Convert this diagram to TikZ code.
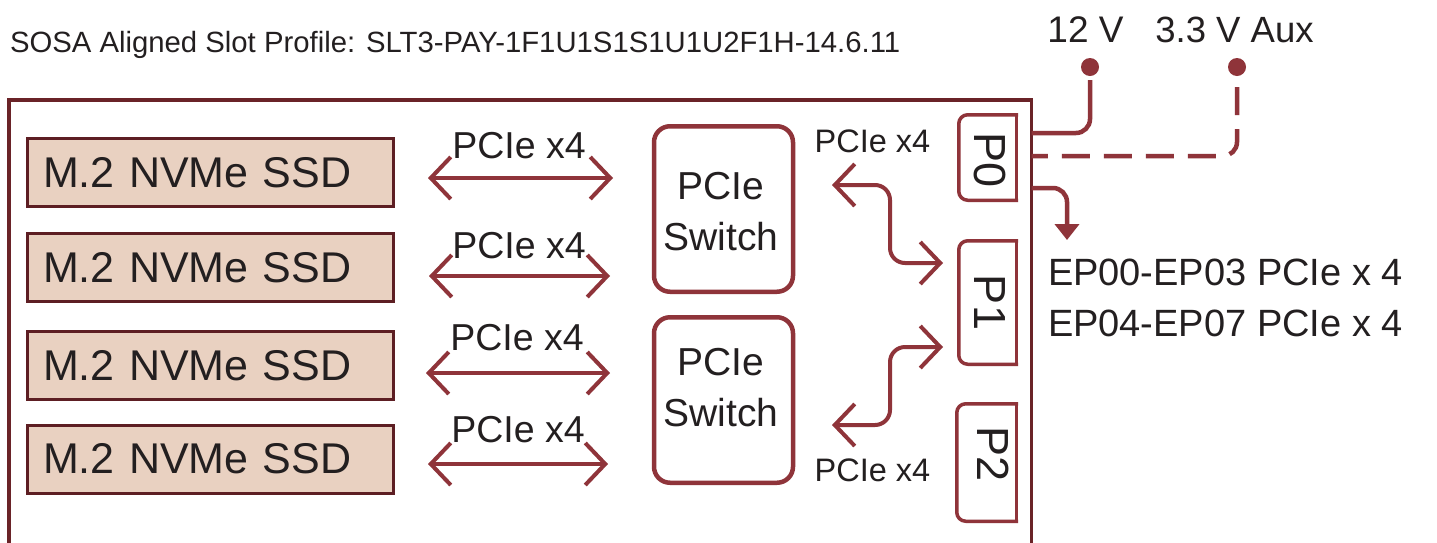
\documentclass[tikz,border=0pt]{standalone}
\usepackage{fontspec}
\setmainfont{Liberation Sans}
\usepackage{graphicx}
\usetikzlibrary{arrows.meta}
\definecolor{brick}{RGB}{143,52,58}
\definecolor{boardc}{RGB}{106,35,40}
\definecolor{ssdline}{RGB}{93,30,35}
\definecolor{ssdfill}{RGB}{233,209,193}
\definecolor{ink}{RGB}{35,31,32}
\newcommand{\myfs}[2]{\fontsize{#1}{#2}\selectfont}
\newcommand{\pout}[1]{%
  \draw[pline,rounded corners=9pt] (#1.north east) -- (#1.north west) -- (#1.south west) -- (#1.south east);
  \draw[pline] (#1.north east) -- (#1.south east);}
\begin{document}
\begin{tikzpicture}[x=1pt,y=-1pt,
  every node/.style={text=ink, inner sep=0pt, outer sep=0pt},
  >={Straight Barb[length=20pt,width=42pt,line join=miter,line cap=butt]},
  ssdbox/.style={draw=ssdline, line width=3pt, fill=ssdfill, minimum width=366pt, minimum height=68pt, text width=335pt, align=left, font=\myfs{43}{50}},
  swbox/.style={draw=brick, line width=4.5pt, rounded corners=16pt, minimum width=139pt, minimum height=165.5pt},
  swtext/.style={align=center, font=\myfs{39}{51}},
  pshape/.style={draw=none, minimum width=57.5pt},
  pline/.style={draw=brick, line width=3.5pt, line cap=rect},
  ptext/.style={font=\myfs{45}{50}, rotate=-90},
  lbl/.style={font=\myfs{37.5}{40}, anchor=base},
  slbl/.style={font=\myfs{32.5}{36}, anchor=base},
  pcx/.style={draw=brick, line width=4pt},
  pw/.style={draw=brick, line width=4.5pt},
  dot/.style={circle, fill=brick, minimum size=18pt},
  bigtxt/.style={font=\myfs{38}{40}, anchor=base west}
]
\fill[white] (0,0) rectangle (1437,542);
\useasboundingbox (0,0) rectangle (1437,542);

% title
\node[font=\myfs{29.3}{32}, anchor=base west] (title) at (10,52) {SOSA Aligned Slot Profile: SLT3-PAY-1F1U1S1S1U1U2F1H-14.6.11};

% board outline (open at the bottom)
\coordinate (bbl) at (9,548);
\coordinate (btl) at (9,100);
\coordinate (btr) at (1031.5,100);
\coordinate (bbr) at (1031.5,548);
\draw[draw=boardc, line width=3.3pt] (bbl) -- (btl) -- (btr) -- (bbr);

% SSDs
\node[ssdbox] (ssd1) at (210.5,172.5) {M.2 NVMe SSD};
\node[ssdbox] (ssd2) at (210.5,267.5) {M.2 NVMe SSD};
\node[ssdbox] (ssd3) at (210.5,365.5) {M.2 NVMe SSD};
\node[ssdbox] (ssd4) at (210.5,459) {M.2 NVMe SSD};

% switches
\node[swbox] (sw1) at (723.5,209) {};
\node[swbox] (sw2) at (723.5,400) {};
\node[swtext] (sw1t) at (721,211.5) {PCIe\\Switch};
\node[swtext] (sw2t) at (721,387.5) {PCIe\\Switch};

% SSD <-> switch links
\coordinate (a1l) at (428,178); \coordinate (a1r) at (613,178);
\coordinate (a2l) at (429,276); \coordinate (a2r) at (610,276);
\coordinate (a3l) at (426,373); \coordinate (a3r) at (610,373);
\coordinate (a4l) at (428,464); \coordinate (a4r) at (608,464);
\draw[pcx,<->] (a1l) -- (a1r);
\draw[pcx,<->] (a2l) -- (a2r);
\draw[pcx,<->] (a3l) -- (a3r);
\draw[pcx,<->] (a4l) -- (a4r);
\node[lbl] (lab1) at (519,158) {PCIe x4};
\node[lbl] (lab2) at (519,258) {PCIe x4};
\node[lbl] (lab3) at (517,350) {PCIe x4};
\node[lbl] (lab4) at (518,442) {PCIe x4};

% P connectors
\node[pshape, minimum height=85.5pt] (p0) at (987.5,157.5) {};
\node[pshape, minimum height=123.5pt] (p1) at (987.5,302.5) {};
\node[pshape, minimum width=59.5pt, minimum height=117.5pt] (p2) at (986.5,462.5) {};
\pout{p0}
\pout{p1}
\pout{p2}
\node[ptext] (p0t) at (990,160) {P0};
\node[ptext] (p1t) at (990,302.5) {P1};
\node[ptext] (p2t) at (993,454) {P2};

% switch <-> P1 links
\coordinate (u1) at (832,185); \coordinate (um) at (890,224); \coordinate (u2) at (943,263);
\coordinate (l2) at (943,347); \coordinate (lm) at (890,386); \coordinate (l1) at (832,425);
\draw[pcx,<->,rounded corners=15pt] (u1) -| (um) |- (u2);
\draw[pcx,<->,rounded corners=15pt] (l2) -| (lm) |- (l1);
\node[slbl] (lab5) at (872.5,152) {PCIe x4};
\node[slbl] (lab6) at (872.5,481) {PCIe x4};

% power
\node[font=\myfs{37}{40}, anchor=base] (v12) at (1085.5,42) {12 V};
\node[font=\myfs{36.5}{40}, anchor=base] (v33) at (1234.5,42) {3.3 V Aux};
\node[dot] (d12) at (1090,67) {};
\node[dot] (d33) at (1237,67) {};
\coordinate (b12) at (1031.5,133);
\coordinate (b33) at (1031.5,156);
\coordinate (bep) at (1031.5,188);
\coordinate (eptip) at (1067,240);
\draw[pw,rounded corners=14pt,shorten <=4pt] (d12.south) |- (b12);
\draw[pw,rounded corners=14pt,shorten <=11pt,dash pattern=on 28pt off 14pt] (d33.south) |- (b33);
\draw[pw,rounded corners=14pt,-{Triangle[length=16pt,width=24pt]}] (bep) -| (eptip);

\node[bigtxt] (ep1) at (1048,285) {EP00-EP03 PCIe x 4};
\node[bigtxt] (ep2) at (1048,336) {EP04-EP07 PCIe x 4};
\end{tikzpicture}
\end{document}
